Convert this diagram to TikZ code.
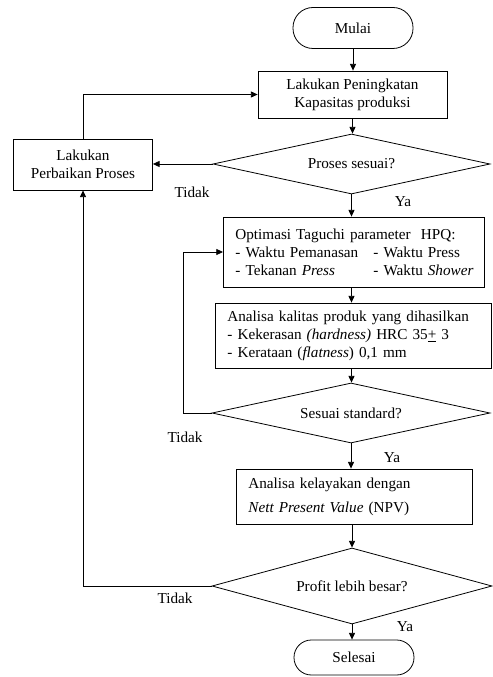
\documentclass[tikz,border=0pt]{standalone}
\usepackage{fontspec}
\setmainfont{Liberation Serif}
\usetikzlibrary{shapes.geometric,arrows.meta}
\begin{document}
\begin{tikzpicture}[x=0.75pt,y=-0.75pt,
  every node/.style={font=\fontsize{11.4pt}{13.5pt}\selectfont},
  line/.style={draw=black,line width=0.6pt},
  arr/.style={line, -{Triangle[length=5pt,width=4.5pt]}},
  term/.style={line, rectangle, align=center, inner sep=0pt},
  procbox/.style={line, rectangle, align=center, inner sep=0pt},
  leftbox/.style={line, rectangle, align=left, inner xsep=9pt, inner ysep=0pt, anchor=west},
  decision/.style={line, diamond, aspect=4.6, inner sep=0pt, align=center},
  lbl/.style={inner sep=0pt}]
\useasboundingbox (0,0) rectangle (492,677);

\node[term, rounded corners=15pt, minimum width=90pt, minimum height=30.75pt] (mulai) at (353,28) {Mulai};
\node[procbox, minimum width=141.75pt, minimum height=35.25pt] (box1) at (352.5,94.5) {Lakukan Peningkatan\\Kapasitas produksi};
\node[decision, minimum width=207.75pt, minimum height=45pt] (d1) at (351.5,164) {Proses sesuai?};
\node[procbox, minimum width=104.25pt, minimum height=38.25pt] (perb) at (83,164.5) {Lakukan\\Perbaikan Proses};

\node[leftbox, text width=177.75pt, minimum height=52.5pt] (box2) at (223,252)
  {\mbox{Optimasi Taguchi parameter\ \ HPQ:}\\
   \mbox{\makebox[103.5pt][l]{- Waktu Pemanasan}- Waktu Press}\\
   \mbox{\makebox[103.5pt][l]{- Tekanan \textit{Press}}- Waktu \textit{Shower}}};

\node[leftbox, text width=189pt, minimum height=48.75pt] (box3) at (215,335.5)
  {\mbox{Analisa kalitas produk yang dihasilkan}\\
   \mbox{- Kekerasan \textit{(hardness)} HRC 35\underline{+}~3}\\
   \mbox{- Kerataan (\textit{flatness}) 0,1 mm}};

\node[decision, minimum width=208.5pt, minimum height=45pt] (d2) at (351,413) {Sesuai standard?};

\node[leftbox, text width=159pt, minimum height=41.25pt] (box4) at (236,496.5)
  {Analisa kelayakan dengan\\[4.5pt]
   \textit{Nett Present Value} (NPV)};

\node[decision, minimum width=210pt, minimum height=57pt] (d3) at (352,586) {Profit lebih besar?};
\node[term, rounded corners=13pt, minimum width=90pt, minimum height=26.25pt] (selesai) at (354,657.5) {Selesai};

% main column arrows
\draw[arr] (mulai.south) -- (mulai.south |- box1.north);
\draw[arr] (box1.south) -- (box1.south |- d1.north);
\draw[arr] (d1.south) -- (d1.south |- box2.north);
\draw[arr] (d1.south |- box2.south) -- (d1.south |- box3.north);
\draw[arr] (d1.south |- box3.south) -- (d1.south |- d2.north);
\draw[arr] (d2.south) -- (d2.south |- box4.north);
\draw[arr] (d3.north |- box4.south) -- (d3.north);
\draw[arr] (d3.south) -- (d3.south |- selesai.north);

% loops
\draw[arr] (d1.west) -- (d1.west -| perb.east);
\draw[arr] (perb.north) |- (box1.west);
\coordinate (l2) at (183,413);
\draw[arr] (d2.west) -- (l2) |- (box2.west);
\draw[arr] (d3.west) -| (perb.south);

% labels
\node[lbl] (t1) at (192,192) {Tidak};
\node[lbl] (y1) at (403,202) {Ya};
\node[lbl] (t2) at (185,437) {Tidak};
\node[lbl] (y2) at (392,458) {Ya};
\node[lbl] (t3) at (175,598) {Tidak};
\node[lbl] (y3) at (405,627) {Ya};
\end{tikzpicture}
\end{document}
